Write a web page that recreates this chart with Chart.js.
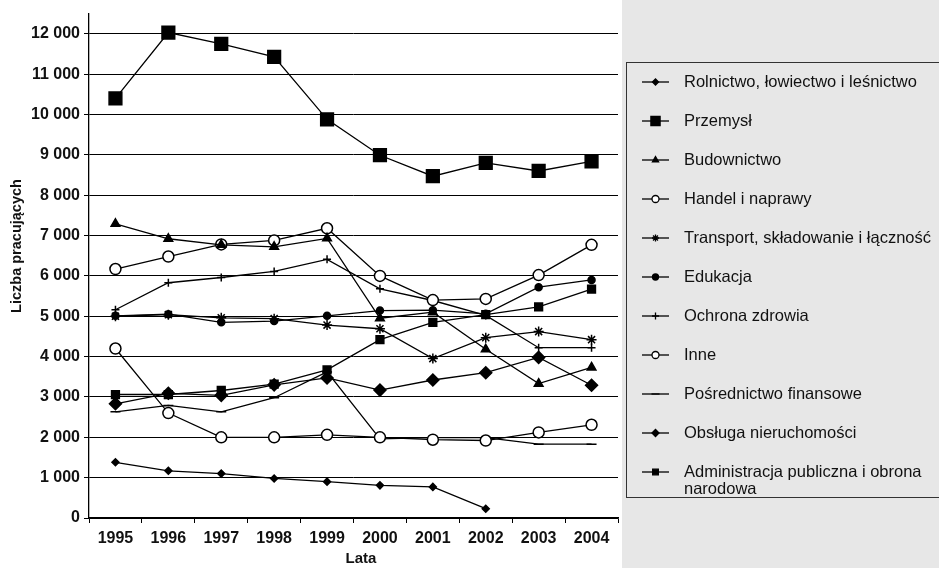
<!DOCTYPE html>
<html lang="pl">
<head>
  <meta charset="UTF-8">
  <title>Liczba pracujących 1995-2004</title>
  <script src="https://cdn.jsdelivr.net/npm/chart.js"></script>
  <style>
    html, body {
      margin: 0;
      padding: 0;
      background: #fff;
    }
    #wrap {
      width: 939px;
      height: 568px;
    }
  </style>
</head>
<body>
  <div id="wrap"><canvas id="workChart"></canvas></div>

  <script>
    const years = ['1995', '1996', '1997', '1998', '1999', '2000', '2001', '2002', '2003', '2004'];

    const rolnictwo      = [1380, 1170, 1100, 980, 900, 810, 770, 230, null, null];
    const przemysl       = [10400, 12030, 11750, 11430, 9880, 8990, 8470, 8800, 8600, 8840];
    const budownictwo    = [7290, 6920, 6770, 6720, 6930, 4950, 5100, 4180, 3330, 3730];
    const handel         = [6170, 6480, 6780, 6880, 7180, 6000, 5400, 5430, 6020, 6770];
    const transport      = [5000, 5040, 4960, 4940, 4780, 4690, 3950, 4470, 4620, 4420];
    const edukacja       = [5010, 5050, 4850, 4880, 5010, 5140, 5150, 5060, 5720, 5900];
    const ochrona        = [5160, 5830, 5960, 6110, 6410, 5680, 5390, 5020, 4220, 4220];
    const inne           = [4200, 2600, 2000, 2000, 2060, 2000, 1940, 1920, 2120, 2310];
    const posrednictwo   = [2630, 2790, 2630, 2980, 3620, 1960, 1990, 1990, 1830, 1830];
    const obsluga        = [2830, 3090, 3040, 3300, 3470, 3170, 3420, 3600, 3980, 3290];
    const administracja  = [3060, 3060, 3160, 3320, 3670, 4420, 4850, 5040, 5230, 5670];

    const yTickValues = [0, 1000, 2000, 3000, 4000, 5000, 6000, 7000, 8000, 9000, 10000, 11000, 12000];

    const FONT = "'Liberation Sans', Arial, Helvetica, sans-serif";

    function series(label, data, style, radius, filled, legendRadius) {
      return {
        label: label,
        data: data,
        borderColor: '#000',
        borderWidth: 1.3,
        pointStyle: style,
        pointRadius: radius,
        pointHoverRadius: radius,
        pointBackgroundColor: filled ? '#000' : '#fff',
        pointBorderColor: '#000',
        pointBorderWidth: 1.5,
        legendRadius: legendRadius,
        tension: 0,
        spanGaps: false
      };
    }

    const datasets = [
      series('Rolnictwo, łowiectwo i leśnictwo', rolnictwo, 'rectRot', 3.5, true, 3),
      series('Przemysł', przemysl, 'rect', 9, true, 6.5),
      series('Budownictwo', budownictwo, 'triangle', 5, true, 3.5),
      series('Handel i naprawy', handel, 'circle', 5.5, false, 3.5),
      series('Transport, składowanie i łączność', transport, 'star', 5, true, 3.5),
      series('Edukacja', edukacja, 'circle', 3.5, true, 3),
      series('Ochrona zdrowia', ochrona, 'cross', 4, true, 3.5),
      series('Inne', inne, 'circle', 5.5, false, 3.5),
      series('Pośrednictwo finansowe', posrednictwo, 'line', 5, true, 4),
      series('Obsługa nieruchomości', obsluga, 'rectRot', 6, true, 3.5),
      series('Administracja publiczna i obrona narodowa', administracja, 'rect', 5.5, true, 4)
    ];

    function spaced(v) {
      return String(v).replace(/\B(?=(\d{3})+(?!\d))/g, ' ');
    }

    // legend in a framed box on the right + axis titles
    const boxLegend = {
      id: 'boxLegend',
      beforeDraw(chart) {
        const c = chart.ctx;
        c.save();
        c.fillStyle = '#e7e7e7';
        c.fillRect(622, 0, chart.width - 622, chart.height);
        c.restore();
      },
      afterDraw(chart) {
        const c = chart.ctx;
        const x0 = 626, y0 = 62, y1 = 497;
        c.save();
        c.strokeStyle = '#333';
        c.lineWidth = 1;
        c.strokeRect(x0 + 0.5, y0 + 0.5, chart.width - x0 + 5, y1 - y0);

        c.font = '16.5px ' + FONT;
        c.textBaseline = 'middle';
        c.textAlign = 'left';
        const maxW = chart.width - 686;

        chart.data.datasets.forEach((ds, i) => {
          const y = 82 + i * 39;
          c.beginPath();
          c.moveTo(642, y);
          c.lineTo(669, y);
          c.strokeStyle = '#000';
          c.lineWidth = 1.3;
          c.stroke();

          c.fillStyle = ds.pointBackgroundColor;
          c.strokeStyle = '#000';
          c.lineWidth = 1.3;
          Chart.helpers.drawPoint(c, {
            pointStyle: ds.pointStyle,
            radius: ds.legendRadius,
            borderWidth: 1.3,
            rotation: 0
          }, 655.5, y);

          // wrap long labels
          const words = ds.label.split(' ');
          const lines = [];
          let line = '';
          words.forEach(w => {
            const t = line ? line + ' ' + w : w;
            if (c.measureText(t).width > maxW && line) {
              lines.push(line);
              line = w;
            } else {
              line = t;
            }
          });
          lines.push(line);
          c.fillStyle = '#111';
          lines.forEach((l, k) => c.fillText(l, 684, y + k * 17));
        });

        // axis titles
        c.fillStyle = '#111';
        c.font = 'bold 15px ' + FONT;
        c.textAlign = 'center';
        c.fillText('Lata', 361, 559);
        c.translate(17, 246);
        c.rotate(-Math.PI / 2);
        c.font = 'bold 14.5px ' + FONT;
        c.fillText('Liczba pracujących', 0, 0);
        c.restore();
      }
    };

    const ctx = document.getElementById('workChart').getContext('2d');

    const workChart = new Chart(ctx, {
      type: 'line',
      data: {
        labels: years,
        datasets: datasets
      },
      options: {
        responsive: true,
        maintainAspectRatio: false,
        animation: false,
        layout: {
          padding: { left: 0, right: 321, top: 11, bottom: 0 }
        },
        plugins: {
          legend: { display: false },
          tooltip: { enabled: false }
        },
        scales: {
          x: {
            offset: true,
            grid: {
              offset: true,
              drawOnChartArea: false,
              color: '#000',
              tickLength: 5
            },
            border: { color: '#000', width: 1.3 },
            ticks: {
              color: '#111',
              padding: 6,
              maxRotation: 0,
              font: { family: FONT, size: 16, weight: 'bold' }
            },
            afterFit(scale) {
              scale.height = 50;
            }
          },
          y: {
            min: 0,
            max: 12500,
            grid: {
              color: '#000',
              lineWidth: 1,
              tickLength: 5
            },
            border: { color: '#000', width: 1.3 },
            ticks: {
              color: '#111',
              padding: 4,
              font: { family: FONT, size: 16, weight: 'bold' },
              callback: v => spaced(v)
            },
            afterBuildTicks(scale) {
              scale.ticks = yTickValues.map(v => ({ value: v }));
            },
            afterFit(scale) {
              scale.width = 89;
            }
          }
        }
      },
      plugins: [boxLegend]
    });
  </script>
</body>
</html>
